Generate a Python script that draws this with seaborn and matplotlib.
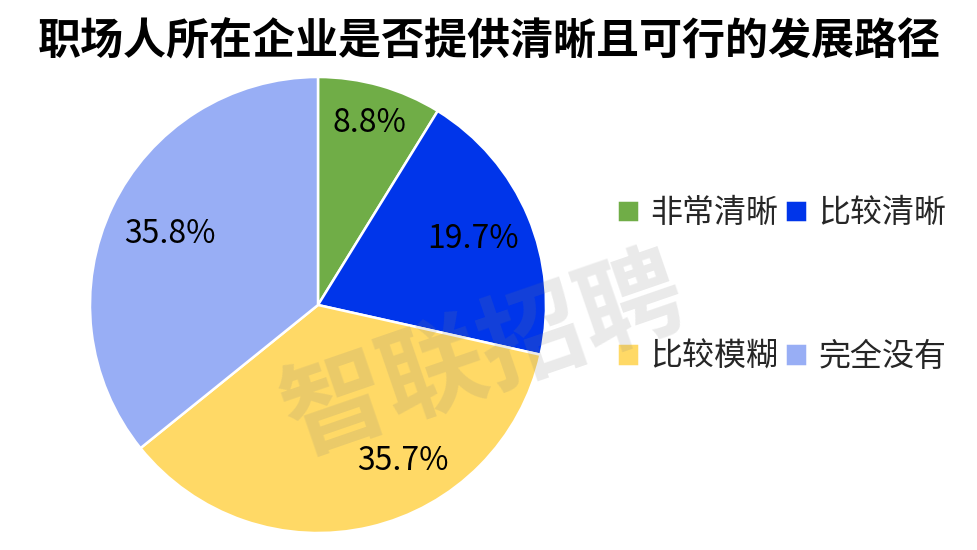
import numpy as np
import matplotlib.pyplot as plt
import seaborn as sns

# 数据
categories = ["非常清晰", "比较清晰", "比较模糊", "完全没有"]
shares = [8.8, 19.7, 35.7, 35.8]
colors = ["#70AD47", "#0035EA", "#FFD966", "#98AEF5"]
title = "职场人所在企业是否提供清晰且可行的发展路径"
watermark = "智联招聘"

sns.set_theme(style="white")
plt.rcParams["font.family"] = ["Noto Sans CJK SC", "DejaVu Sans"]

fig = plt.figure(figsize=(9.78, 5.5), dpi=100)
ax = fig.add_axes([90 / 978, 17 / 550, 456 / 978, 456 / 550])

wedges, texts, autotexts = ax.pie(
    shares,
    colors=sns.color_palette(colors),
    startangle=90,
    counterclock=False,
    radius=1,
    autopct="%.1f%%",
    pctdistance=0.76,
    wedgeprops={"edgecolor": "white", "linewidth": 1.8},
    textprops={"fontsize": 23, "color": "black"},
)
ax.set_xlim(-1, 1)
ax.set_ylim(-1, 1)
ax.set_aspect("equal")

# 标签位置微调（Excel式最佳位置）
label_dist = [0.83, 0.74, 0.78, 0.72]
label_shift = [0, 0, 15.5, 0]
for w, t, d, s in zip(wedges, autotexts, label_dist, label_shift):
    ang = np.deg2rad((w.theta1 + w.theta2) / 2 + s)
    t.set_position((d * np.cos(ang), d * np.sin(ang)))

fig.text(0.5, 1 - 41 / 550, title, ha="center", va="center",
         fontsize=31, fontweight="black", color="black")

# 水印
fig.text(484 / 978, 1 - 356 / 550, watermark, ha="center", va="center",
         fontsize=75, fontweight="bold", color="#7f7f7f", alpha=0.16,
         rotation=19, zorder=10)

# 图例按行排列
order = [0, 2, 1, 3]
fig.legend(
    [wedges[i] for i in order], [categories[i] for i in order],
    loc="upper left",
    bbox_to_anchor=(617 / 978, 1 - 197 / 550),
    ncol=2,
    frameon=False,
    fontsize=23,
    handlelength=0.7,
    handleheight=0.7,
    handletextpad=0.35,
    columnspacing=0.2,
    labelspacing=3.5,
    borderpad=0,
    borderaxespad=0,
)

plt.savefig("out.png", dpi=100)
plt.close()
